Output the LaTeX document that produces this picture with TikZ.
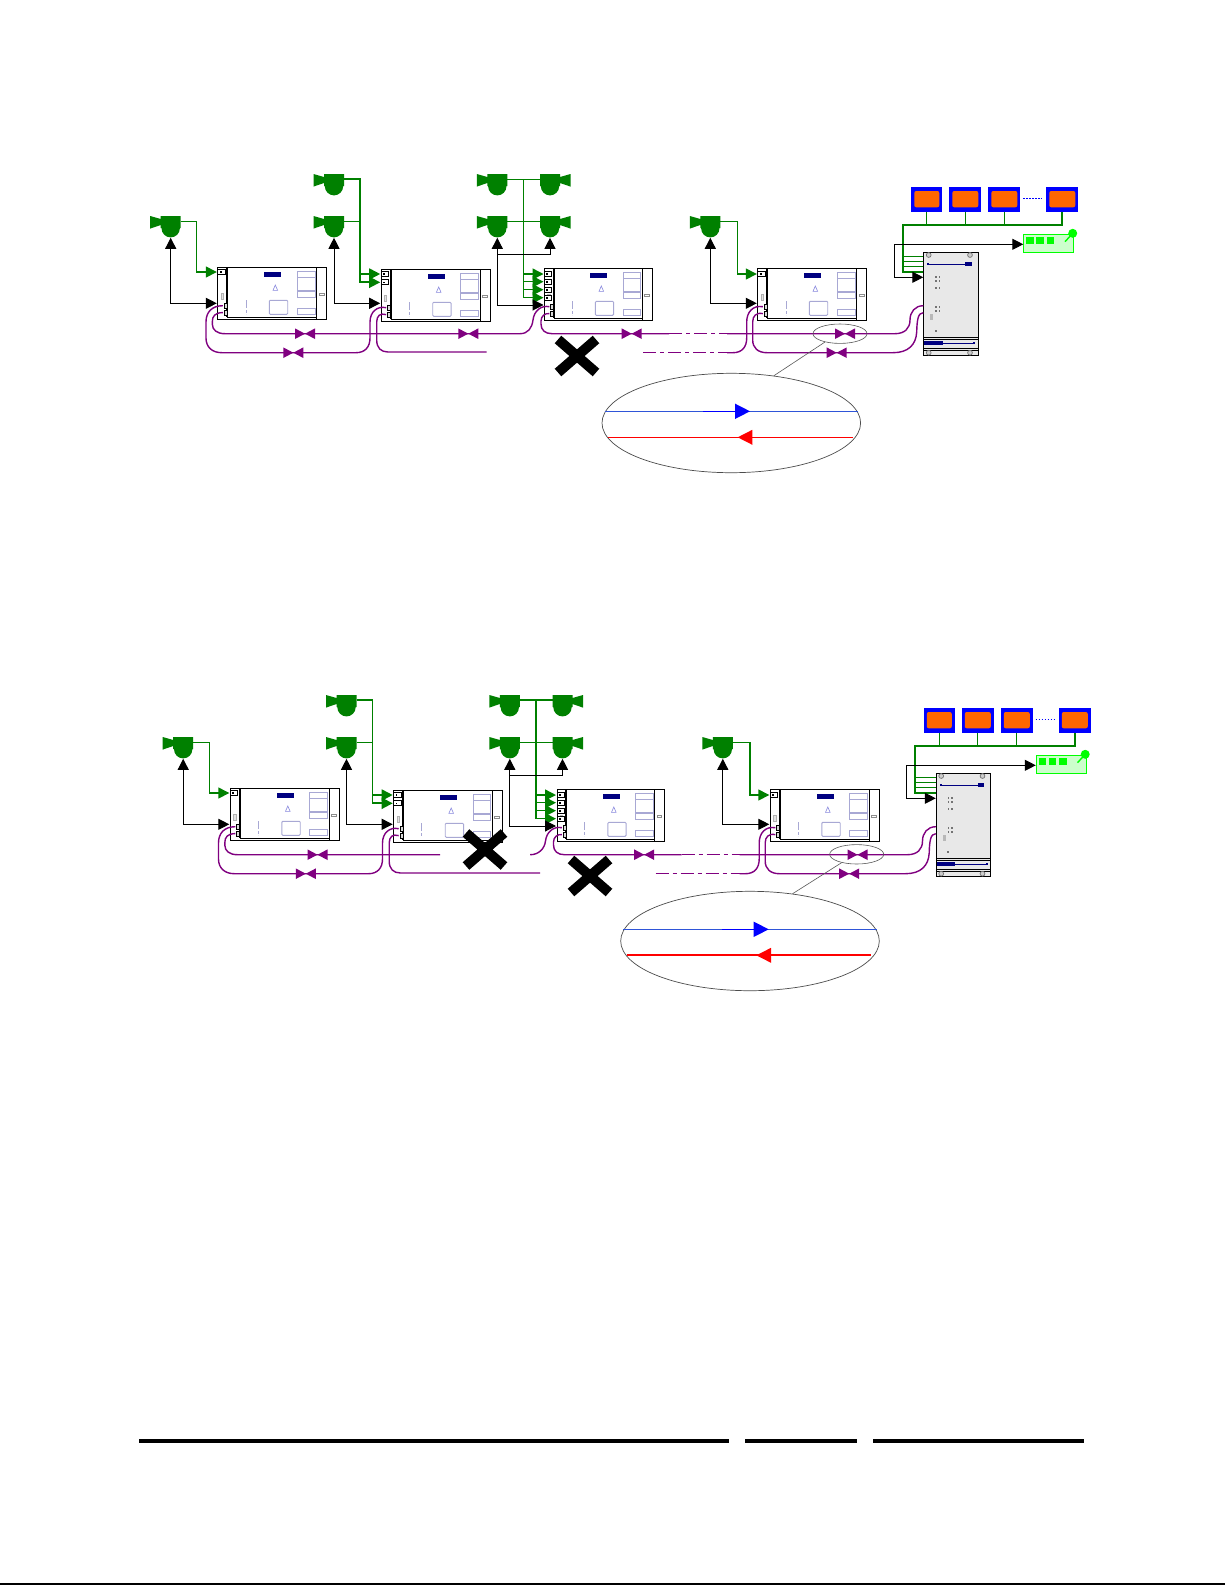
\documentclass[tikz,border=0pt]{standalone}
\usetikzlibrary{arrows.meta,shapes.geometric}
\definecolor{camgreen}{HTML}{008000}
\definecolor{pur}{HTML}{800080}
\definecolor{panelgray}{HTML}{E8E8E8}
\definecolor{modblue}{HTML}{A8A8D4}
\definecolor{navyb}{HTML}{000080}
\definecolor{orangem}{HTML}{FF6600}
\definecolor{linkblue}{HTML}{2F55D8}
\tikzset{
  tipg/.tip={Triangle[length=11pt,width=11pt]},
  gline/.style={draw=camgreen,line width=1.4pt,-{tipg}},
  glinethick/.style={draw=camgreen,line width=1.8pt,-{tipg}},
  gthin/.style={draw=camgreen,line width=1.2pt},
  gthick/.style={draw=camgreen,line width=1.8pt},
  kline/.style={draw=black,line width=1pt},
  purline/.style={draw=pur,line width=1.4pt},
  purdash/.style={draw=pur,line width=1.4pt,dash pattern=on 13pt off 4pt on 4pt off 4pt},
  modbox/.style={draw=modblue,line width=.9pt},
  moduleouter/.style={draw=black,fill=white,line width=1pt,minimum height=52pt,inner sep=0pt,anchor=north west},
  monitorbox/.style={fill=blue,minimum width=31.5pt,minimum height=25pt,inner sep=0pt,anchor=north west},
  thinring/.style={draw=black!65,line width=.6pt},
}
% camera: name, x, y (top centre of the body), xscale
\newcommand{\camera}[4]{%
 \begin{scope}[shift={(#2,#3)},xscale=#4]
  \fill[camgreen] (-20.5,0) -- (-10,3) -- (-10,0) -- (10,0) -- (10,12) -- (9.2,12) -- (9.2,12.2)
    arc[start angle=0,end angle=180,radius=9.2] -- (-9.2,12) -- (-10,12) -- (-10,9) -- (-20.5,12.6) -- cycle;
  \coordinate (#1-b) at (0,21.8);
  \coordinate (#1-s) at (10,5.3);
 \end{scope}}
% module: [x scale], name, x, y, rel y of black input, list of port i/rel y
\newcommand{\modul}[6][1]{%
 \begin{scope}[shift={(#3,#4)},xscale=#1]
  \node[moduleouter,minimum width=109pt*#1] (#2) at (0,0) {};
  \draw[black,line width=1.4pt] (10,0) -- (99.5,0);
  \draw[black,line width=1.8pt] (10,0) -- (10,50);
  \draw[black,line width=.8pt] (10,50) -- (99.5,50);
  \draw[black,line width=1pt] (99.5,0) -- (99.5,52);
  \fill[navyb] (47,4.4) rectangle (64,10);
  \draw[modblue!80!blue,line width=.6pt] (55.7,23) -- (58,17.7) -- (60.3,23) -- cycle;
  \draw[modbox] (80,3.7) rectangle (97.7,10);
  \draw[modbox] (80,10) rectangle (97.7,23);
  \draw[modbox] (80,24) rectangle (97.7,30);
  \draw[modbox] (80,41) rectangle (97.7,47);
  \draw[modbox,rounded corners=1pt] (52,33) rectangle (70.4,47);
  \draw[modbox,dash pattern=on 8pt off 2pt on 3pt off 1pt] (28.7,33) -- (28.7,47);
  \draw[black!45,line width=.5pt] (101.5,25.7) rectangle (106.5,28);
  \draw[black!30,fill=black!10,line width=.5pt] (3.7,26) rectangle (6,32);
  \foreach \i/\ry in {#6} {
    \draw[black,fill=white,line width=1pt] (.5,\ry-2.5) rectangle (8,\ry+2.5);
    \fill[black] (2.5,\ry-.8) rectangle (4.2,\ry+.8);
    \coordinate (#2-g\i) at (-.5,\ry);
  }
  \draw[black,fill=black!15,line width=.9pt] (7,36) rectangle (10,41);
  \draw[black,fill=black!15,line width=.9pt] (7,42.7) rectangle (10,48);
  \coordinate (#2-k) at (-.5,#5);
  \coordinate (#2-u) at (5.5,38.4);
  \coordinate (#2-l) at (5.5,45.3);
 \end{scope}}
\newcommand{\valvetie}[2]{%
  \fill[pur] (#1-10,#2-5.3) -- (#1,#2) -- (#1+10,#2-5.3) -- (#1+10,#2+5.3) -- (#1,#2) -- (#1-10,#2+5.3) -- cycle;}
\newcommand{\crossmark}[2]{%
  \draw[black,line width=10pt] (#1-19,#2-16.5) -- (#1+19,#2+16.5) (#1-19,#2+16.5) -- (#1+19,#2-16.5);}
% the part shared by both drawings, in the coordinates of the upper one
\newcommand{\rowparts}[1]{%
  \camera{#1c1}{170.7}{216}{1}
  \camera{#1c2}{334}{216}{1}
  \camera{#1c3}{334}{174}{1}
  \camera{#1c4}{497.3}{174}{1}
  \camera{#1c5}{497.3}{216}{1}
  \camera{#1c6}{550}{174}{-1}
  \camera{#1c7}{550}{216}{-1}
  \camera{#1c8}{710.3}{216}{1}
  \modul{#1m1}{217.3}{267.3}{36}{1/4.7}
  \modul{#1m2}{380.7}{269.3}{34}{1/4.7,2/13}
  \modul[.988]{#1m3}{544}{268.3}{36.7}{1/5.7,2/13.4,3/21.4,4/29.4}
  \modul{#1m4}{757.3}{268.3}{35}{1/5.7}
  % green video lines
  \coordinate (#1j1) at (196.7,221.3);
  \draw[gline] (#1c1-s) -- (#1j1) |- (#1m1-g1);
  \coordinate (#1j2) at (360,221.3);
  \draw[gthick] (#1c3-s) -| (#1j2);
  \draw[gthin] (#1j2) -- (#1c2-s);
  \draw[glinethick] (#1j2) |- (#1m2-g1);
  \draw[glinethick] (#1j2) |- (#1m2-g2);
  \coordinate (#1j3) at (523.3,179.3);
  \draw[gthin] (#1c4-s) -- (#1c6-s);
  \draw[gthin] (#1c5-s) -- (#1c7-s);
  \foreach \p in {1,2,3,4} {\draw[gline] (#1j3) |- (#1m3-g\p);}
  \coordinate (#1j4) at (737.3,221.3);
  \draw[gline] (#1c8-s) -- (#1j4) |- (#1m4-g1);
  % black control lines
  \draw[kline,{tipg}-{tipg}] (#1c1-b) |- (#1m1-k);
  \draw[kline,{tipg}-{tipg}] (#1c2-b) |- (#1m2-k);
  \draw[kline,{tipg}-{tipg}] (#1c5-b) |- (#1m3-k);
  \coordinate (#1j5) at (497.3,254.3);
  \draw[kline,-{tipg}] (#1j5) -| (#1c7-b);
  \draw[kline,{tipg}-{tipg}] (#1c8-b) |- (#1m4-k);
  % right-hand equipment
  \foreach \n/\mx/\mw in {1/911/31,2/949/32,3/988/32,4/1046/32} {
    \node[monitorbox,minimum width=\mw pt] (#1mon\n) at (\mx,187) {};
    \fill[orangem,rounded corners=2pt] (\mx+3.3,191) rectangle (\mx+\mw-2.7,207.3);
  }
  \draw[blue,line width=.8pt,dash pattern=on 1.5pt off 1.5pt] (1023,198.3) -- (1041.7,198.3);
  \node[draw=black,fill=panelgray,line width=1pt,minimum width=54.4pt,minimum height=103pt,inner sep=0pt,anchor=north west] (#1ctl) at (923.3,252.3) {};
  \draw[black,line width=1pt] (923.3,337.3) -- (977.7,337.3) (923.3,339.3) -- (977.7,339.3) (923.3,348.3) -- (977.7,348.3) (923.3,350.3) -- (977.7,350.3);
  \foreach \sx/\sy in {928.7/255,970/255,928.7/352.7,970/352.7} {\draw[black!55,fill=black!20,line width=.7pt] (\sx,\sy) circle[radius=2.4pt];}
  \draw[navyb,line width=.9pt] (928.3,264) -- (971.7,264);
  \fill[navyb] (927.2,262.9) rectangle (929.4,265.1);
  \fill[navyb] (965,262.3) rectangle (971.7,265.7);
  \draw[navyb,line width=.9pt] (924,343.3) -- (974,343.3);
  \fill[navyb] (924,341.3) rectangle (942.7,345.3);
  \fill[navyb] (973,342.2) rectangle (975,344.4);
  \foreach \dy in {277,281,288.3,306.7,310.7} {\fill[black!55] (935,\dy-.9) rectangle (936.8,\dy+.9); \fill[black!55] (938.5,\dy-.9) rectangle (940.3,\dy+.9);}
  \fill[black!28] (930,314) rectangle (933,320);
  \fill[black!55] (934.8,329.8) rectangle (936.6,331.6);
  \node[draw={rgb,255:red,0;green,255;blue,0},fill={rgb,255:red,204;green,255;blue,204},line width=1pt,minimum width=50pt,minimum height=17.4pt,inner sep=0pt,anchor=north west] (#1kbd) at (1023.3,234.3) {};
  \foreach \bx in {1026,1036,1046.7} {\fill[green] (\bx,237.3) rectangle (\bx+7.5,244);}
  \draw[green,line width=1.4pt] (1065,241.7) -- (1072.7,233.3);
  \fill[green] (1072.7,233.3) circle[radius=4.5pt];
  \coordinate (#1bus) at (902.7,224.7);
  \foreach \n in {1,2,3} {\draw[gthin] (#1mon\n.south) -- (#1mon\n.south |- #1bus);}
  \draw[gthick] (#1mon4.south) -- (#1mon4.south |- #1bus) -- (#1bus) -- (902.7,271.7) -- (923.3,271.7);
  \draw[camgreen,line width=.8pt] (902.7,256) -- (923.3,256) (902.7,261) -- (923.3,261) (902.7,266.3) -- (923.3,266.3);
  \coordinate (#1j6) at (894.3,244.3);
  \coordinate (#1j7) at (894.3,277.3);
  \draw[kline,-{tipg}] (#1j6) -- (#1j7) -- (#1ctl.west |- #1j7);
  \draw[kline,-{tipg}] (#1j6) -- (#1kbd.west |- #1j6);
  % ring links shared by both drawings
  \coordinate (#1cu) at (923.3,305.7);
  \coordinate (#1cl) at (923.3,312.7);
  \draw[purline] (#1m1-u) .. controls (212,305.7) and (206,312) .. (206,322) -- (206,338) .. controls (206,347) and (212,352.7) .. (222,352.7) -- (356,352.7) .. controls (365,352.7) and (370,347) .. (370,338) -- (370,322) .. controls (370,312) and (377,305.7) .. (#1m2-u);
  \draw[purline] (#1m3-l) .. controls (545,313) and (541,316) .. (541,321) -- (541,324) .. controls (541,330) and (545,333.7) .. (552,333.7) -- (669,333.7);
  \draw[purdash] (669,333.7) -- (727,333.7);
  \draw[purline] (727,333.7) -- (895,333.7) .. controls (905,333.7) and (910,328) .. (910,320) .. controls (910,312) and (915,305.7) .. (#1cu);
  \draw[purdash] (643,352.7) -- (727,352.7);
  \draw[purline] (727,352.7) -- (733,352.7) .. controls (742,352.7) and (746.7,347) .. (746.7,338) -- (746.7,322) .. controls (746.7,312) and (753,305) .. (#1m4-u);
  \draw[purline] (#1m4-l) .. controls (756,312.3) and (752.7,316) .. (752.7,322) -- (752.7,340) .. controls (752.7,348) and (758,352.7) .. (767,352.7) -- (893,352.7) .. controls (908,352.7) and (916,345) .. (916.7,332) .. controls (917,320) and (918,312.7) .. (#1cl);
  \valvetie{293.3}{352.7}
  \valvetie{305}{333.7}
  \valvetie{631.7}{333.7}
  \valvetie{845}{333.7}
  \valvetie{836.7}{352.7}
}
% magnifier: name, red width
\newcommand{\magnifier}[2]{%
  \node[draw=black!70,line width=.7pt,ellipse,minimum width=258.6pt,minimum height=99.4pt,inner sep=0pt] (#1big) at (731.3,423) {};
  \draw[linkblue,line width=.9pt] (604.7,411.3) -- (858.3,411.3);
  \draw[blue,line width=1pt] (703,411.3) -- (735,411.3);
  \fill[blue] (735,403.6) -- (750,411.3) -- (735,419) -- cycle;
  \draw[red,line width=#2] (608,437.3) -- (852.7,437.3);
  \fill[red] (752.3,429.8) -- (737.7,437.3) -- (752.3,444.8) -- cycle;
}
\begin{document}
\begin{tikzpicture}[x=1pt,y=-1pt]
\useasboundingbox (0,0) rectangle (1225,1585);
\fill[white] (0,0) rectangle (1225,1585);
% upper drawing
\rowparts{a}
\draw[purline] (am1-l) .. controls (215,312.7) and (212.3,316) .. (212.3,322) -- (212.3,324) .. controls (212.3,330) and (217,333.7) .. (225,333.7) -- (520,333.7) .. controls (528,333.7) and (532,328) .. (533,320) .. controls (534,311) and (541,305) .. (am3-u);
\draw[purline] (am2-l) .. controls (380,312.7) and (376.7,316) .. (376.7,322) -- (376.7,340) .. controls (376.7,348) and (381,352) .. (388,352) -- (486.7,352);
\valvetie{468.3}{333.7}
\crossmark{577}{356}
\node[thinring,ellipse,minimum width=54pt,minimum height=19.4pt,inner sep=0pt] (asmall) at (840,333.7) {};
\magnifier{a}{1.5pt}
\draw[thinring] (asmall.209) -- (abig.48);
% lower drawing
\begin{scope}[shift={(12.5,521)}]
\rowparts{b}
\draw[gthick] (bc4-s) -- (bc6-s);
\draw[purline] (bm1-l) .. controls (215,312.7) and (212.3,316) .. (212.3,322) -- (212.3,324) .. controls (212.3,330) and (217,333.7) .. (225,333.7) -- (427.7,333.7);
\draw[purline] (517.7,333.7) .. controls (526,333.7) and (532,328) .. (533,320) .. controls (534,311) and (541,305) .. (bm3-u);
\draw[purline] (bm2-l) .. controls (380,312.7) and (376.7,316) .. (376.7,322) -- (376.7,340) .. controls (376.7,348) and (381,352) .. (388,352) -- (527.7,352);
\crossmark{472.5}{328.5}
\crossmark{577.5}{355}
\node[thinring,ellipse,minimum width=54pt,minimum height=19.4pt,inner sep=0pt] (bsmall) at (844.2,333.3) {};
\end{scope}
\begin{scope}[shift={(18.7,518)}]
\magnifier{b}{2pt}
\end{scope}
\draw[thinring] (bsmall.209) -- (bbig.48);
% footer
\fill[black] (138.7,1438.7) rectangle (728.7,1443.3);
\fill[black] (745,1438.7) rectangle (857,1443.3);
\fill[black] (873,1438.7) rectangle (1083.8,1443.3);
\fill[black] (0,1583.4) rectangle (1225,1585);
\end{tikzpicture}
\end{document}
